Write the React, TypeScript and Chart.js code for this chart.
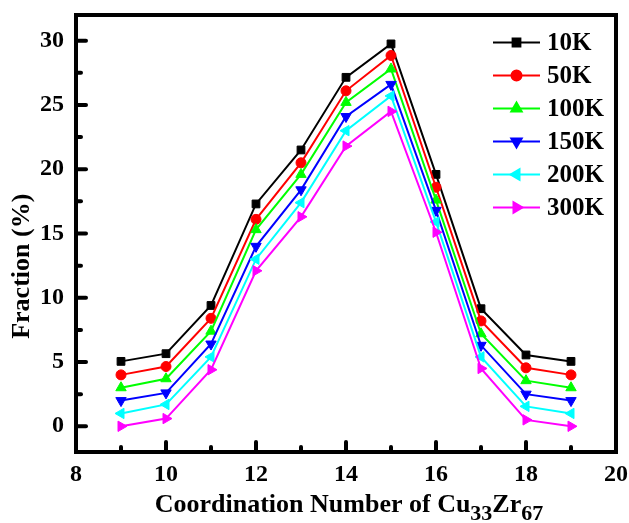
import React, { useEffect, useRef } from "react";
import { Chart, registerables } from "chart.js";
import { drawPoint } from "chart.js/helpers";

Chart.register(...registerables);

const coordination = [9, 10, 11, 12, 13, 14, 15, 16, 17, 18, 19];
const seriesNames = ["10K", "50K", "100K", "150K", "200K", "300K"];
const frac10K = [5.05, 5.65, 9.4, 17.3, 21.5, 27.15, 29.75, 19.6, 9.15, 5.55, 5.05];
const frac50K = [4.0, 4.65, 8.4, 16.1, 20.5, 26.1, 28.85, 18.6, 8.2, 4.55, 4.0];
const frac100K = [3.0, 3.7, 7.4, 15.3, 19.6, 25.2, 27.8, 17.6, 7.2, 3.55, 3.0];
const frac150K = [2.0, 2.6, 6.4, 14.0, 18.4, 24.1, 26.6, 16.8, 6.3, 2.5, 2.0];
const frac200K = [1.0, 1.7, 5.4, 13.0, 17.4, 23.0, 25.7, 15.9, 5.4, 1.55, 1.0];
const frac300K = [0.0, 0.6, 4.4, 12.1, 16.3, 21.8, 24.5, 15.1, 4.5, 0.5, 0.0];
const seriesValues = [frac10K, frac50K, frac100K, frac150K, frac200K, frac300K];

const xTickLabels = [8, 10, 12, 14, 16, 18, 20];
const xMinorTicks = [9, 11, 13, 15, 17, 19];
const yTickLabels = [0, 5, 10, 15, 20, 25, 30];
const yMinorTicks = [2.5, 7.5, 12.5, 17.5, 22.5, 27.5];

const colors = ["#000000", "#ff0000", "#00ff00", "#0000ff", "#00ffff", "#ff00ff"];
const pointStyles = ["rect", "circle", "triangle", "triangle", "triangle", "triangle"];
const pointRotations = [0, 0, 0, 180, -90, 90];
const pointRadii = [5.5, 5, 6, 6, 6, 6];

const FONT = "'Liberation Serif', 'Times New Roman', serif";

const decorPlugin = {
  id: "decor",
  afterDraw(chart: any) {
    const ctx = chart.ctx as CanvasRenderingContext2D;
    const { left, right, top, bottom } = chart.chartArea;
    const xs = chart.scales.x;
    const ys = chart.scales.y;
    ctx.save();
    // frame
    ctx.strokeStyle = "#000";
    ctx.lineWidth = 4;
    ctx.lineCap = "round";
    ctx.strokeRect(left, top, right - left, bottom - top);
    // inward ticks
    const tick = (x1: number, y1: number, x2: number, y2: number) => {
      ctx.beginPath();
      ctx.moveTo(x1, y1);
      ctx.lineTo(x2, y2);
      ctx.stroke();
    };
    yTickLabels.forEach((v) => {
      const py = ys.getPixelForValue(v);
      tick(left, py, left + 10, py);
    });
    yMinorTicks.forEach((v) => {
      const py = ys.getPixelForValue(v);
      tick(left, py, left + 5, py);
    });
    xTickLabels.forEach((v) => {
      const px = xs.getPixelForValue(v);
      if (px > left + 2 && px < right - 2) tick(px, bottom, px, bottom - 10);
    });
    xMinorTicks.forEach((v) => {
      const px = xs.getPixelForValue(v);
      tick(px, bottom, px, bottom - 5);
    });

    // y title
    ctx.fillStyle = "#000";
    ctx.font = `bold 26px ${FONT}`;
    ctx.save();
    ctx.translate(22, top + (bottom - top) * 0.575);
    ctx.rotate(-Math.PI / 2);
    ctx.textAlign = "center";
    ctx.textBaseline = "middle";
    ctx.fillText("Fraction (%)", 0, 0);
    ctx.restore();

    // x title with subscripts
    const parts: [string, boolean][] = [
      ["Coordination Number of Cu", false],
      ["33", true],
      ["Zr", false],
      ["67", true],
    ];
    const mainFont = `bold 26px ${FONT}`;
    const subFont = `bold 22px ${FONT}`;
    let total = 0;
    parts.forEach(([t, sub]) => {
      ctx.font = sub ? subFont : mainFont;
      total += ctx.measureText(t).width;
    });
    let cx = (left + right) / 2 + 3 - total / 2;
    const baseY = 512;
    ctx.textAlign = "left";
    ctx.textBaseline = "alphabetic";
    parts.forEach(([t, sub]) => {
      ctx.font = sub ? subFont : mainFont;
      ctx.fillText(t, cx, sub ? baseY + 8 : baseY);
      cx += ctx.measureText(t).width;
    });

    // legend
    ctx.font = `bold 25px ${FONT}`;
    ctx.textBaseline = "middle";
    seriesNames.forEach((name, i) => {
      const ly = top + 27.5 + i * 33;
      ctx.strokeStyle = colors[i];
      ctx.lineWidth = 2;
      ctx.lineCap = "butt";
      tick(right - 123, ly, right - 76, ly);
      ctx.fillStyle = colors[i];
      drawPoint(
        ctx,
        {
          pointStyle: pointStyles[i],
          rotation: pointRotations[i],
          radius: pointRadii[i],
          borderWidth: 1,
        } as any,
        right - 99.5,
        ly
      );
      ctx.fillStyle = "#000";
      ctx.fillText(name, right - 69, ly + 1);
    });
    ctx.restore();
  },
};

const zeroPad = (s: any) => {
  s.paddingTop = 0;
  s.paddingBottom = 0;
  s.paddingLeft = 0;
  s.paddingRight = 0;
};

export default function App() {
  const ref = useRef<HTMLCanvasElement | null>(null);
  useEffect(() => {
    if (!ref.current) return;
    const chart = new Chart(ref.current, {
      type: "line",
      data: {
        datasets: seriesNames.map((name, i) => ({
          label: name,
          data: coordination.map((x, j) => ({ x, y: seriesValues[i][j] })),
          borderColor: colors[i],
          backgroundColor: colors[i],
          pointBackgroundColor: colors[i],
          pointBorderColor: colors[i],
          pointStyle: pointStyles[i] as any,
          pointRotation: pointRotations[i],
          pointRadius: pointRadii[i],
          pointBorderWidth: 1,
          borderWidth: 2,
          tension: 0,
          order: seriesNames.length - i,
        })),
      },
      options: {
        animation: false,
        responsive: false,
        devicePixelRatio: 1,
        layout: { padding: { top: 15, right: 13, left: 0, bottom: 0 } },
        plugins: { legend: { display: false }, tooltip: { enabled: false } },
        scales: {
          x: {
            type: "linear",
            min: 8,
            max: 20,
            afterBuildTicks: (s: any) => {
              s.ticks = xTickLabels.map((v) => ({ value: v }));
            },
            afterFit: (s: any) => {
              s.height = 71;
              zeroPad(s);
            },
            grid: { display: false, drawTicks: false },
            border: { display: false },
            ticks: {
              color: "#000",
              padding: 8,
              maxRotation: 0,
              autoSkip: false,
              font: { family: FONT, size: 24, weight: "bold" },
            },
          },
          y: {
            type: "linear",
            min: -2,
            max: 32,
            afterBuildTicks: (s: any) => {
              s.ticks = yTickLabels.map((v) => ({ value: v }));
            },
            afterFit: (s: any) => {
              s.width = 76;
              zeroPad(s);
            },
            grid: { display: false, drawTicks: false },
            border: { display: false },
            ticks: {
              color: "#000",
              padding: 12,
              autoSkip: false,
              font: { family: FONT, size: 24, weight: "bold" },
            },
          },
        },
      },
      plugins: [decorPlugin],
    });
    return () => chart.destroy();
  }, []);
  return (
    <div style={{ position: "absolute", left: 0, top: 0, width: 629, height: 523, background: "#fff" }}>
      <canvas ref={ref} width={629} height={523} />
    </div>
  );
}
